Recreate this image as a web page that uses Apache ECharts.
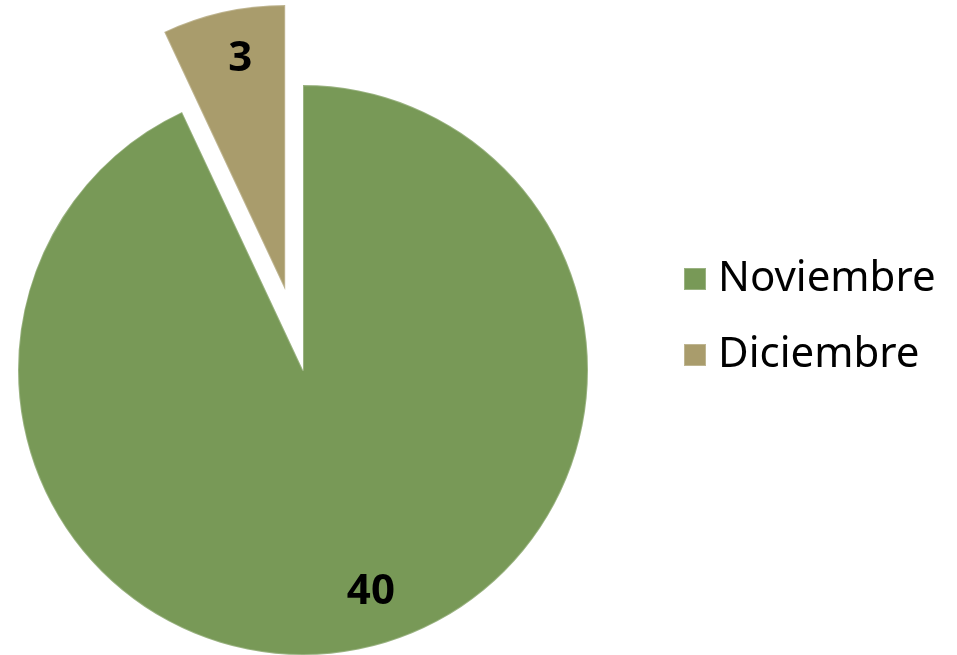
<!DOCTYPE html>
<html>
<head>
<meta charset="utf-8">
<script src="https://cdn.jsdelivr.net/npm/echarts@6/dist/echarts.min.js"></script>
<style>
  html, body { margin: 0; padding: 0; background: #fff; }
  #chart { width: 957px; height: 655px; }
</style>
</head>
<body>
<div id="chart"></div>
<script>
  // datos
  var months = ['Noviembre', 'Diciembre'];
  var values = [40, 3];
  var colors = ['#789957', '#a99c6c'];
  var exploded = [false, true];

  var chart = echarts.init(document.getElementById('chart'));

  var pieData = months.map(function (m, i) {
    return {
      name: m,
      value: values[i],
      selected: exploded[i],
      itemStyle: { color: colors[i] }
    };
  });

  var option = {
    animation: false,
    legend: {
      orient: 'vertical',
      left: 678,
      top: 253,
      itemWidth: 22,
      itemHeight: 22,
      itemGap: 34,
      icon: 'rect',
      data: months,
      textStyle: {
        fontFamily: '"Noto Sans", sans-serif',
        fontSize: 42,
        color: '#000',
        padding: [0, 0, 0, 7]
      }
    },
    series: [{
      // sectores
      type: 'pie',
      center: [303, 370],
      radius: 285,
      startAngle: 90,
      clockwise: true,
      selectedMode: 'multiple',
      selectedOffset: 82,
      silent: true,
      label: { show: false },
      labelLine: { show: false },
      itemStyle: {
        borderColor: 'rgba(255,255,255,0.25)',
        borderWidth: 2
      },
      data: pieData
    }, {
      // etiquetas, anillo transparente para situarlas a ~0.81 r
      type: 'pie',
      center: [303, 370],
      radius: [177, 285],
      startAngle: 90,
      clockwise: true,
      selectedMode: 'multiple',
      selectedOffset: 82,
      silent: true,
      itemStyle: { color: 'rgba(0,0,0,0)' },
      labelLine: { show: false },
      label: {
        show: true,
        position: 'inside',
        formatter: '{c}',
        fontFamily: '"Noto Sans", sans-serif',
        fontWeight: 'bold',
        fontSize: 42,
        color: '#000'
      },
      labelLayout: function (params) {
        return params.dataIndex === 0 ? { dx: 17, dy: -6 } : { dx: 6, dy: -3 };
      },
      data: months.map(function (m, i) {
        return { name: m, value: values[i], selected: exploded[i] };
      })
    }]
  };

  chart.setOption(option);
</script>
</body>
</html>
